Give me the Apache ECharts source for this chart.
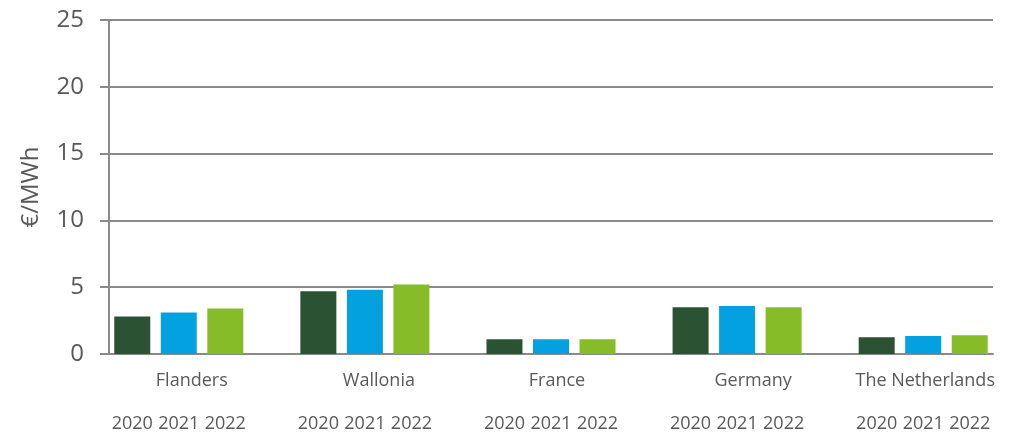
<!DOCTYPE html>
<html>
<head>
<meta charset="utf-8">
<script src="https://cdn.jsdelivr.net/npm/echarts@6/dist/echarts.min.js"></script>
<style>
  html, body { margin: 0; padding: 0; background: #fff; }
  #main { width: 1020px; height: 433px; }
</style>
</head>
<body>
<div id="main"></div>
<script>
// data
var regions = ['Flanders', 'Wallonia', 'France', 'Germany', 'The Netherlands'];
var years = ['2020', '2021', '2022'];
var v2020 = [2.8, 4.7, 1.1, 3.5, 1.25];
var v2021 = [3.1, 4.8, 1.1, 3.6, 1.35];
var v2022 = [3.4, 5.2, 1.1, 3.5, 1.4];
var yTicks = [0, 5, 10, 15, 20, 25];

var colors = ['#2C5234', '#03A1DF', '#86BC27'];
var textColor = '#595959';
var lineColor = '#8a8a8a';

// build slot categories: 3 years per region, one empty slot between regions
var cats = [];
var yearOf = [];
var regionOf = [];
for (var i = 0; i < regions.length; i++) {
    for (var j = 0; j < years.length; j++) {
        cats.push(regions[i] + '|' + years[j]);
        yearOf.push(years[j]);
        regionOf.push(j === 1 ? i : -1);
    }
    if (i < regions.length - 1) {
        cats.push('gap' + i);
        yearOf.push('');
        regionOf.push(-1);
    }
}

function seriesData(values, yearIdx) {
    var out = [];
    for (var c = 0; c < cats.length; c++) {
        var parts = cats[c].split('|');
        if (parts.length === 2 && parts[1] === years[yearIdx]) {
            out.push(values[regions.indexOf(parts[0])]);
        } else {
            out.push('-');
        }
    }
    return out;
}

var allValues = [v2020, v2021, v2022];
var series = [];
for (var s = 0; s < years.length; s++) {
    series.push({
        name: years[s],
        type: 'bar',
        barWidth: 36,
        barGap: '-100%',
        itemStyle: { color: colors[s] },
        data: seriesData(allValues[s], s)
    });
}

// small shifts of the region names, as in the picture
var regionShift = [26, 28, 12, 32, 4];
var rich = {};
for (var r = 0; r < regions.length; r++) {
    rich['r' + r] = { padding: [0, 0, 0, regionShift[r]], fontSize: 18, color: textColor, fontFamily: 'Open Sans' };
}

var myChart = echarts.init(document.getElementById('main'));
var option = {
    animation: false,
    grid: { left: 109, right: 27, top: 20, bottom: 78 },
    xAxis: [{
        type: 'category',
        data: cats,
        position: 'bottom',
        axisLine: { lineStyle: { color: lineColor, width: 2 } },
        axisTick: { show: false },
        axisLabel: {
            interval: 0,
            margin: 61,
            color: textColor,
            fontFamily: 'Open Sans',
            fontSize: 18,
            formatter: function (v, idx) { return yearOf[idx]; }
        }
    }, {
        type: 'category',
        data: cats,
        position: 'bottom',
        axisLine: { show: false },
        axisTick: { show: false },
        axisLabel: {
            interval: 0,
            margin: 18,
            color: textColor,
            fontFamily: 'Open Sans',
            fontSize: 18,
            rich: rich,
            formatter: function (v, idx) {
                var ri = regionOf[idx];
                return ri >= 0 ? '{r' + ri + '|' + regions[ri] + '}' : '';
            }
        }
    }],
    yAxis: {
        type: 'value',
        min: yTicks[0],
        max: yTicks[yTicks.length - 1],
        interval: 5,
        name: '€/MWh',
        nameLocation: 'middle',
        nameGap: 66,
        nameTextStyle: { color: textColor, fontFamily: 'Open Sans', fontSize: 24 },
        axisLine: { show: true, lineStyle: { color: lineColor, width: 2 } },
        axisTick: { show: true, length: 9, lineStyle: { color: lineColor, width: 2 } },
        axisLabel: { margin: 25, color: textColor, fontFamily: 'Open Sans', fontSize: 24 },
        splitLine: { lineStyle: { color: lineColor, width: 2 } }
    },
    series: series
};
myChart.setOption(option);
</script>
</body>
</html>
